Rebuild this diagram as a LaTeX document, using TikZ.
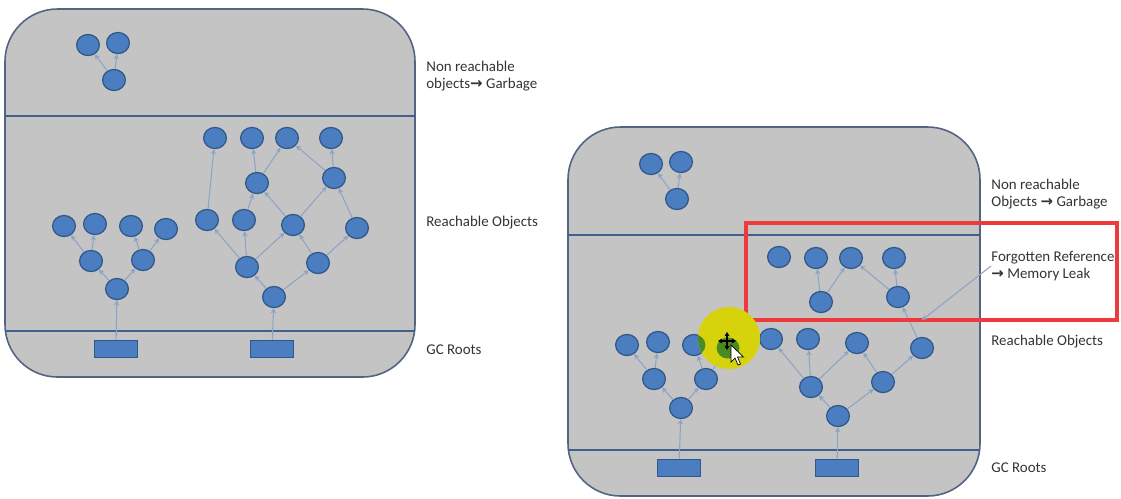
\documentclass[tikz,border=0pt]{standalone}
\usepackage{fontspec}
\setmainfont{Carlito}
\newfontfamily\arrowfont{DejaVu Sans}
\usetikzlibrary{arrows.meta,shapes.geometric}
\definecolor{panelfill}{HTML}{C4C4C4}
\definecolor{paneledge}{HTML}{526482}
\definecolor{divline}{HTML}{41618C}
\definecolor{objfill}{HTML}{4A7EC0}
\definecolor{objedge}{HTML}{30578A}
\definecolor{reflink}{HTML}{8CA4C4}
\definecolor{leakred}{HTML}{EE3A3A}
\definecolor{labeltext}{HTML}{333333}
\definecolor{marker}{HTML}{D6D20C}
\definecolor{markgreen}{HTML}{4A8A22}
\newcommand{\ra}{{\arrowfont\fontsize{8.5}{10}\selectfont\bfseries →}}

\begin{document}
\begin{tikzpicture}[x=.02cm,y=-.02cm,font=\fontsize{8.5}{10}\selectfont,
 panel/.style={draw=paneledge,fill=panelfill,line width=.9pt,rounded corners=1.05cm},
 divider/.style={draw=divline,line width=1.1pt},
 obj/.style={ellipse,draw=objedge,fill=objfill,line width=.7pt,inner sep=0pt,minimum width=13pt,minimum height=12pt},
 gcroot/.style={draw=objedge,fill=objfill,line width=.6pt,inner sep=0pt,minimum width=24pt,minimum height=10pt},
 ref/.style={draw=reflink,line width=.6pt,-{Stealth[length=3pt,width=3pt]}},
 lbl/.style={anchor=west,align=left,text=labeltext,inner sep=0pt}]
\useasboundingbox (0,0) rectangle (1121,498);

% left heap
\draw[panel] (5,9) rectangle (415,377);
\draw[divider] (5,116) -- (415,116);
\draw[divider] (5,331) -- (415,331);
\node[obj] (g1) at (88,45) {};
\node[obj] (g2) at (118,43) {};
\node[obj] (g3) at (114,80) {};
\node[gcroot] (r1) at (116,349) {};
\node[obj] (t0) at (117,289) {};
\node[obj] (t1) at (91,261) {};
\node[obj] (t2) at (143,260) {};
\node[obj] (s1) at (64,226) {};
\node[obj] (s2) at (95,224) {};
\node[obj] (s3) at (131,226) {};
\node[obj] (s4) at (166,229) {};
\node[gcroot] (r2) at (272,349) {};
\node[obj] (b0) at (274,297) {};
\node[obj] (b1) at (247,267) {};
\node[obj] (b2) at (318,263) {};
\node[obj] (c1) at (207,220) {};
\node[obj] (c2) at (244,220) {};
\node[obj] (c3) at (293,225) {};
\node[obj] (c4) at (357,228) {};
\node[obj] (d1) at (257,183) {};
\node[obj] (d2) at (334,178) {};
\node[obj] (e1) at (215,138) {};
\node[obj] (e2) at (252,138) {};
\node[obj] (e3) at (287,138) {};
\node[obj] (e4) at (331,138) {};
\foreach \a/\b in {g3/g1,g3/g2,r1/t0,t0/t1,t0/t2,t1/s1,t1/s2,t2/s3,t2/s4,
 r2/b0,b0/b1,b0/b2,b1/c1,b1/c2,b1/c3,b2/c3,b2/c4,c2/d1,c3/d1,c3/d2,c4/d2,
 c1/e1,d1/e2,d1/e3,d2/e3,d2/e4}
 \draw[ref] (\a) -- (\b);
\node[lbl] (lgarb) at (426,76) {Non reachable\\objects\ra\ Garbage};
\node[lbl] (lreach) at (426,223) {Reachable Objects};
\node[lbl] (lroots) at (426,350) {GC Roots};

% right heap
\draw[panel] (568,127) rectangle (980,496);
\draw[divider] (568,235) -- (980,235);
\draw[divider] (568,450) -- (980,450);
\node[obj] (Rg1) at (651,164) {};
\node[obj] (Rg2) at (681,162) {};
\node[obj] (Rg3) at (677,199) {};
\node[obj] (f1) at (779,257) {};
\node[obj] (f2) at (816,258) {};
\node[obj] (f3) at (851,258) {};
\node[obj] (f4) at (894,258) {};
\node[obj] (f5) at (821,302) {};
\node[obj] (f6) at (898,297) {};
\node[gcroot] (Rr1) at (679,468) {};
\node[obj] (Rt0) at (681,408) {};
\node[obj] (Rt1) at (654,379) {};
\node[obj] (Rt2) at (706,379) {};
\node[obj] (Rs1) at (627,345) {};
\node[obj] (Rs2) at (658,342) {};
\node[obj] (Rs3) at (694,345) {};
\node[obj] (Rs4) at (728,348) {};
\node[gcroot] (Rr2) at (837,468) {};
\node[obj] (Rb0) at (838,416) {};
\node[obj] (Rb1) at (811,387) {};
\node[obj] (Rb2) at (883,382) {};
\node[obj] (Rc1) at (771,339) {};
\node[obj] (Rc2) at (808,339) {};
\node[obj] (Rc3) at (857,343) {};
\node[obj] (Rc4) at (922,348) {};
\foreach \a/\b in {Rg3/Rg1,Rg3/Rg2,f5/f2,f5/f3,f6/f3,f6/f4,
 Rr1/Rt0,Rt0/Rt1,Rt0/Rt2,Rt1/Rs1,Rt1/Rs2,Rt2/Rs3,Rt2/Rs4,
 Rr2/Rb0,Rb0/Rb1,Rb0/Rb2,Rb1/Rc1,Rb1/Rc2,Rb1/Rc3,Rb2/Rc3,Rb2/Rc4,Rc4/f6}
 \draw[ref] (\a) -- (\b);
\draw[leakred,line width=1.8pt] (746,223) rectangle (1117,320);
\node[lbl] (rgarb) at (991,194) {Non reachable\\Objects \ra\ Garbage};
\node[lbl] (leak) at (991,266) {Forgotten Reference\\\ra\ Memory Leak};
\node[lbl] (rreach) at (991,342) {Reachable Objects};
\node[lbl] (rroots) at (991,468) {GC Roots};
\coordinate (leakpt) at (922,320);
\draw[ref] (leak.west) -- (leakpt);

% pointer highlight
\fill[marker] (729,338) circle[radius=.62cm];
\begin{scope}
\clip (729,338) circle[radius=.62cm];
\fill[markgreen] (Rs3) ellipse[x radius=6.5pt,y radius=6pt];
\fill[markgreen] (Rs4) ellipse[x radius=6.5pt,y radius=6pt];
\end{scope}
\foreach \dx/\dy in {0/-9,0/9,-9/0,9/0}
 \draw[line width=.7pt,-{Stealth[length=2.5pt,width=3pt]}] (727,341) -- ++(\dx,\dy);
\draw[fill=white,line width=.4pt] (731,345) -- ++(0,17) -- ++(4,-4) -- ++(3,7)
 -- ++(2.5,-1) -- ++(-3,-7) -- ++(6,0) -- cycle;
\end{tikzpicture}
\end{document}
